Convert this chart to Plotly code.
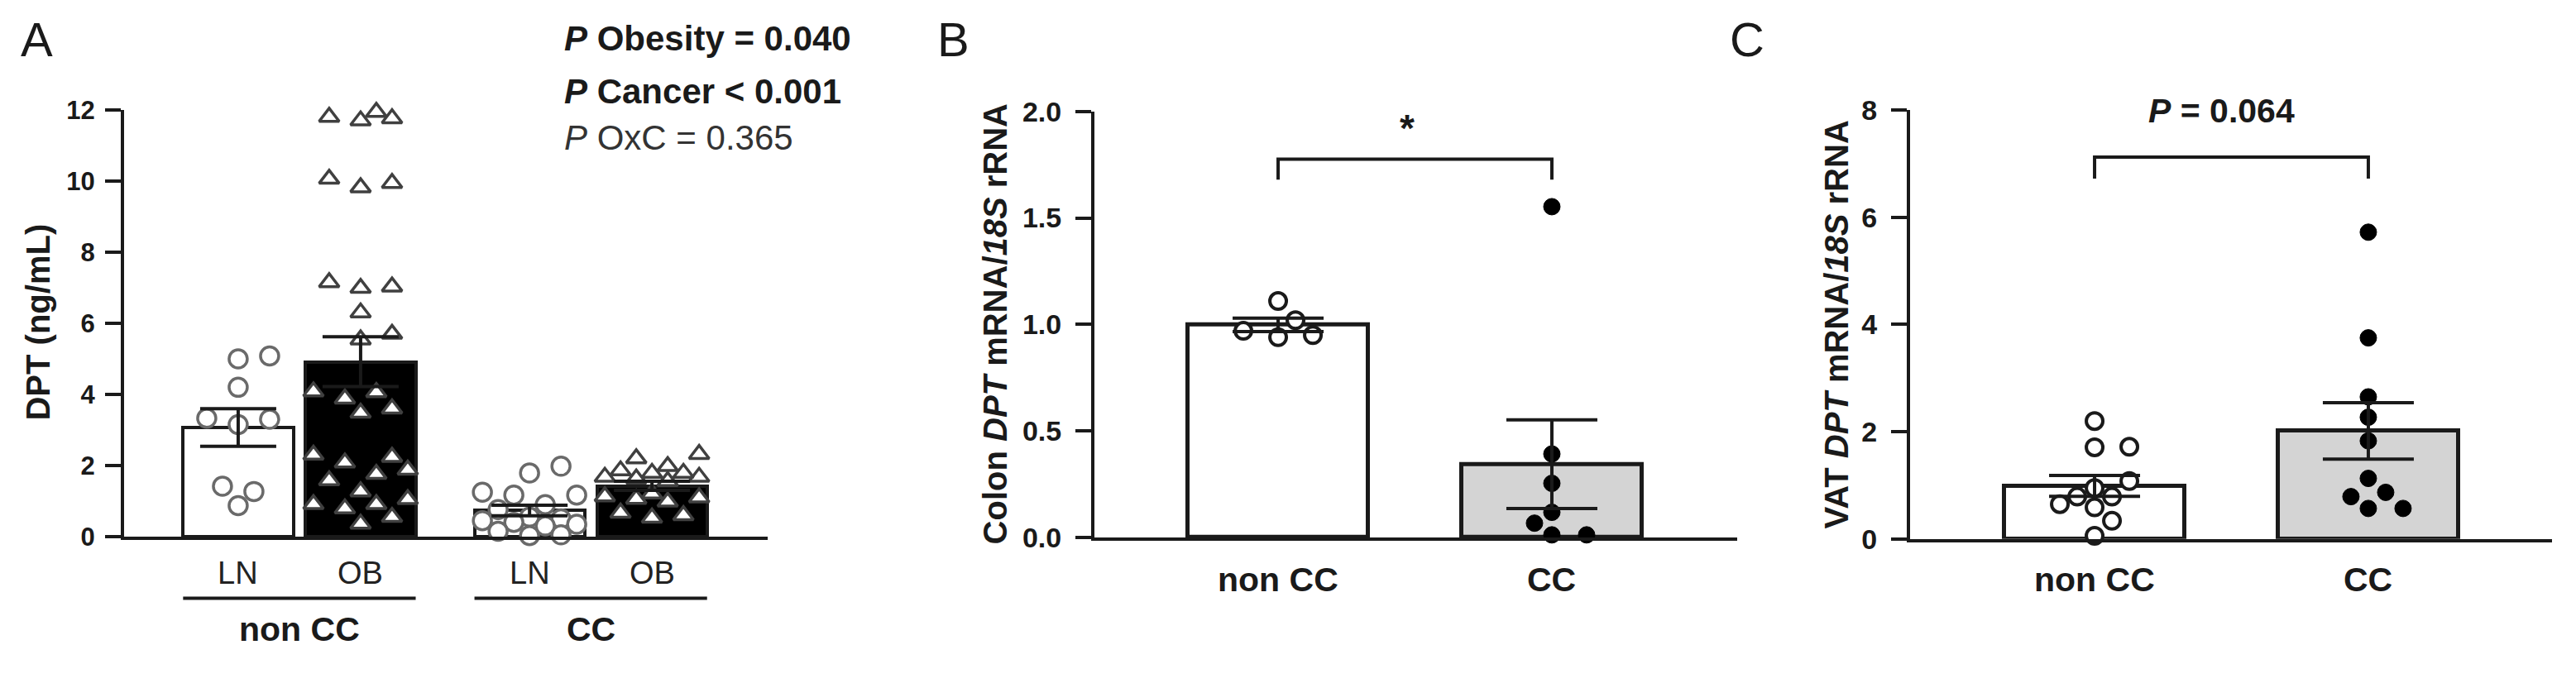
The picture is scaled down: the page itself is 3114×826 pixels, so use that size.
import numpy as np
import plotly.graph_objects as go

W, H = 3114, 826
FONT = "Liberation Sans, Arial, sans-serif"
INK = "#1a1a1a"

# ---------------- data ----------------
# Panel A: serum DPT (ng/mL)
A_labels = ["LN", "OB", "LN", "OB"]
A_groups = ["non CC", "CC"]
A_ln_noncc = [5.0, 5.08, 4.2, 3.3, 3.33, 3.15, 1.42, 1.27, 0.87]
A_ob_noncc = [11.76, 11.94, 11.7, 11.8, 10.06, 9.82, 9.94, 7.15, 7.03, 6.99, 6.3,
              5.54, 5.7, 3.88, 4.08, 4.06, 3.6, 3.48, 2.08, 1.88, 2.24, 2.3, 1.58,
              1.76, 0.91, 0.91, 1.05, 1.27, 0.36, 0.55, 0.79]
A_ln_cc = [1.98, 1.79, 1.25, 1.17, 1.17, 0.9, 0.76, 0.55, 0.5, 0.45, 0.4, 0.35,
           0.3, 0.15, 0.05, 0.03]
A_ob_cc = [2.2, 2.32, 1.79, 1.98, 1.68, 1.63, 1.79, 1.86, 1.68, 1.56, 1.06, 0.98,
           1.13, 1.21, 1.1, 0.53, 0.6, 0.67]
A_yticks = [0, 2, 4, 6, 8, 10, 12]
A_title = "<b>DPT (ng/mL)</b>"
A_stats = ["<b><i>P</i> Obesity = 0.040</b>",
           "<b><i>P</i> Cancer < 0.001</b>",
           "<i>P</i> OxC = 0.365"]

# Panel B: colon DPT expression
B_labels = ["non CC", "CC"]
B_noncc = [1.11, 0.94, 0.97, 0.95, 1.02]
B_cc = [1.553, 0.392, 0.254, 0.067, 0.012, 0.118, 0.012]
B_yticks = [0, 0.5, 1.0, 1.5, 2.0]
B_title = "<b>Colon <i>DPT</i> mRNA/<i>18S</i> rRNA</b>"
B_sig = "<b>*</b>"

# Panel C: VAT DPT expression
C_labels = ["non CC", "CC"]
C_noncc = [2.2, 1.71, 1.72, 1.08, 0.95, 0.79, 0.79, 0.59, 0.65, 0.34, 0.06]
C_cc = [5.72, 3.75, 2.65, 2.27, 1.83, 0.87, 0.57, 0.79, 1.13, 0.57]
C_yticks = [0, 2, 4, 6, 8]
C_title = "<b>VAT <i>DPT</i> mRNA/<i>18S</i> rRNA</b>"
C_sig = "<b><i>P</i> = 0.064</b>"

# ---------------- layout geometry (pixels) ----------------
PANELS = {
    "A": dict(x0=142, x1=920, y0=652, ytop=111, ymax=12, xr=(-0.932, 4.325)),
    "B": dict(x0=1315, x1=2092, y0=653, ytop=113, ymax=2.0, xr=(-0.671, 1.677)),
    "C": dict(x0=2301, x1=3077, y0=655, ytop=111, ymax=8, xr=(-0.674, 1.671)),
}


def px(x):
    return x / W


def py(y):
    return 1 - y / H


def scales(p):
    sx = (p["x1"] - p["x0"]) / (p["xr"][1] - p["xr"][0])
    sy = (p["y0"] - p["ytop"]) / p["ymax"]
    return sx, sy


def swarm(vals, diam, sx, sy, step, maxoff):
    """Deterministic column-scatter layout (pixel offsets -> axis units)."""
    order = sorted(range(len(vals)), key=lambda i: vals[i])
    mags = [j * step for j in range(0, int(maxoff / step) + 1)]
    placed, out = [], [0.0] * len(vals)

    def mind(c, yv):
        return min([((c - a) ** 2 + (yv - b) ** 2) ** 0.5 for a, b in placed] + [1e9])

    for i in order:
        yv = vals[i] * sy
        chosen = None
        for m in mags:
            opts = [0.0] if m == 0 else [m, -m]
            free = [c for c in opts if mind(c, yv) >= diam]
            if free:
                if len(free) == 2:
                    near = sum(a for a, b in placed if abs(b - yv) < diam)
                    chosen = -m if near > 0 else m
                else:
                    chosen = free[0]
                break
        if chosen is None:
            allc = [0.0] + [s * m for m in mags[1:] for s in (1, -1)]
            chosen = max(allc, key=lambda c: mind(c, yv))
        placed.append((chosen, yv))
        out[i] = chosen / sx
    return out


def mean_sem(v):
    a = np.asarray(v, float)
    return float(a.mean()), float(a.std(ddof=1) / np.sqrt(len(a)))


fig = go.Figure()
annotations, shapes = [], []

axis_common = dict(showline=True, linewidth=4, linecolor=INK, showgrid=False,
                   zeroline=False, fixedrange=True)

# ---------------- Panel A ----------------
pA = PANELS["A"]
gap = 0.38
A_pos = [0, 1, 2 + gap, 3 + gap]
A_sets = [A_ln_noncc, A_ob_noncc, A_ln_cc, A_ob_cc]
A_ms = [mean_sem(v) for v in A_sets]
A_fill = ["white", "black", "white", "black"]
bwA = 0.9
fig.add_trace(go.Bar(x=A_pos, y=[m for m, s in A_ms], width=bwA,
                     marker=dict(color=A_fill, line=dict(color=INK, width=4)),
                     xaxis="x", yaxis="y", showlegend=False))
sxA, syA = scales(pA)
for k, vals in enumerate(A_sets):
    offs = swarm(vals, 24, sxA, syA, 19, 58)
    sym = "circle" if A_labels[k] == "LN" else "triangle-up"
    col = "#6a6a6a" if A_labels[k] == "LN" else "#404040"
    fig.add_trace(go.Scatter(x=[A_pos[k] + o for o in offs], y=vals, mode="markers",
                             marker=dict(symbol=sym, size=22 if sym == "circle" else 21,
                                         color="white", line=dict(color=col, width=3.5)),
                             xaxis="x", yaxis="y", showlegend=False, cliponaxis=False))
fig.add_trace(go.Scatter(x=A_pos, y=[m for m, s in A_ms], mode="markers",
                         marker=dict(size=1, color="rgba(0,0,0,0)"),
                         error_y=dict(type="data", array=[s for m, s in A_ms],
                                      thickness=4, width=46, color=INK),
                         xaxis="x", yaxis="y", showlegend=False))

# ---------------- Panels B and C ----------------
def two_group(key, pos_vals, xa, ya):
    p = PANELS[key]
    sx, sy = scales(p)
    pos = [0, 1]
    st = [mean_sem(v) for v in pos_vals]
    fig.add_trace(go.Bar(x=pos, y=[m for m, s in st], width=0.66,
                         marker=dict(color=["white", "#d4d4d4"], line=dict(color=INK, width=5)),
                         xaxis=xa, yaxis=ya, showlegend=False))
    for k, vals in enumerate(pos_vals):
        offs = swarm(vals, 23, sx, sy, 21, 64)
        if k == 0:
            mk = dict(symbol="circle", size=20, color="white", line=dict(color=INK, width=4))
        else:
            mk = dict(symbol="circle", size=20, color="black", line=dict(color="black", width=1))
        fig.add_trace(go.Scatter(x=[pos[k] + o for o in offs], y=vals, mode="markers",
                                 marker=mk, xaxis=xa, yaxis=ya, showlegend=False,
                                 cliponaxis=False))
    fig.add_trace(go.Scatter(x=pos, y=[m for m, s in st], mode="markers",
                             marker=dict(size=1, color="rgba(0,0,0,0)"),
                             error_y=dict(type="data", array=[s for m, s in st],
                                          thickness=4, width=55, color=INK),
                             xaxis=xa, yaxis=ya, showlegend=False))


two_group("B", [B_noncc, B_cc], "x2", "y2")
two_group("C", [C_noncc, C_cc], "x3", "y3")

# ---------------- axes ----------------
def set_axes(key, xname, yname, ticks, fmt, tsize, ylabelgap):
    p = PANELS[key]
    anchor_x = "y" if xname == "xaxis" else "y" + xname[-1]
    anchor_y = "x" if yname == "yaxis" else "x" + yname[-1]
    fig.layout[xname] = dict(domain=[px(p["x0"]), px(p["x1"])], range=list(p["xr"]),
                             anchor=anchor_x, showticklabels=False, ticks="", **axis_common)
    fig.layout[yname] = dict(domain=[py(p["y0"]), py(p["ytop"])], range=[0, p["ymax"]],
                             anchor=anchor_y, tickmode="array", tickvals=ticks,
                             tickformat=fmt, ticks="outside", ticklen=19, tickwidth=4,
                             tickcolor=INK, ticklabelstandoff=ylabelgap,
                             tickfont=dict(family=FONT, size=tsize, color=INK, weight="bold"),
                             **axis_common)


set_axes("A", "xaxis", "yaxis", A_yticks, "d", 31, 6)
set_axes("B", "xaxis2", "yaxis2", B_yticks, ".1f", 34, 10)
set_axes("C", "xaxis3", "yaxis3", C_yticks, "d", 34, 10)

# ---------------- annotations ----------------
def txt(x, y, text, size, xref="paper", yref="paper", xanchor="center", color=INK, **kw):
    annotations.append(dict(x=x, y=y, xref=xref, yref=yref, text=text, showarrow=False,
                            xanchor=xanchor, yanchor="middle",
                            font=dict(family=FONT, size=size, color=color), **kw))


# panel letters
txt(px(36), py(22), "A", 58)
txt(px(1144), py(22), "B", 58)
txt(px(2104), py(22), "C", 58)

# y titles
txt(px(38), py(380), A_title, 40, textangle=-90)
txt(px(1195), py(383), B_title, 40, textangle=-90)
txt(px(2212), py(383), C_title, 40, textangle=-90)

# panel A statistics
for line, ycen in zip(A_stats, [20, 88, 146]):
    txt(px(672), py(ycen), line, 42, xanchor="left",
        color=INK if "<b>" in line else "#333333")

# panel A category / group labels
for k, lab in enumerate(A_labels):
    txt(A_pos[k], py(698), lab, 38, xref="x", color="#222222")
for g, name in enumerate(A_groups):
    a, b = A_pos[2 * g] - bwA / 2, A_pos[2 * g + 1] + bwA / 2
    shapes.append(dict(type="line", xref="x", yref="paper", x0=a, x1=b,
                       y0=py(730), y1=py(730), line=dict(color=INK, width=4)))
    txt((a + b) / 2, py(769), "<b>%s</b>" % name, 41, xref="x")

# panels B, C category labels
for xa, labs in (("x2", B_labels), ("x3", C_labels)):
    for k, lab in enumerate(labs):
        txt(k, py(706), "<b>%s</b>" % lab, 41, xref=xa)

# significance brackets
def bracket(xa, ya, top, drop):
    shapes.append(dict(type="path", xref=xa, yref=ya,
                       path="M 0,%f L 0,%f L 1,%f L 1,%f" % (drop, top, top, drop),
                       line=dict(color=INK, width=4)))


bracket("x2", "y2", 1.776, 1.68)
txt(0.47, 1.92, B_sig, 46, xref="x2", yref="y2")
bracket("x3", "y3", 7.12, 6.72)
txt(0.465, 7.98, C_sig, 41, xref="x3", yref="y3")

fig.update_layout(width=W, height=H, margin=dict(l=0, r=0, t=0, b=0),
                  paper_bgcolor="white", plot_bgcolor="white", bargap=0,
                  annotations=annotations, shapes=shapes,
                  font=dict(family=FONT, color=INK))

fig.write_html("out.html")
